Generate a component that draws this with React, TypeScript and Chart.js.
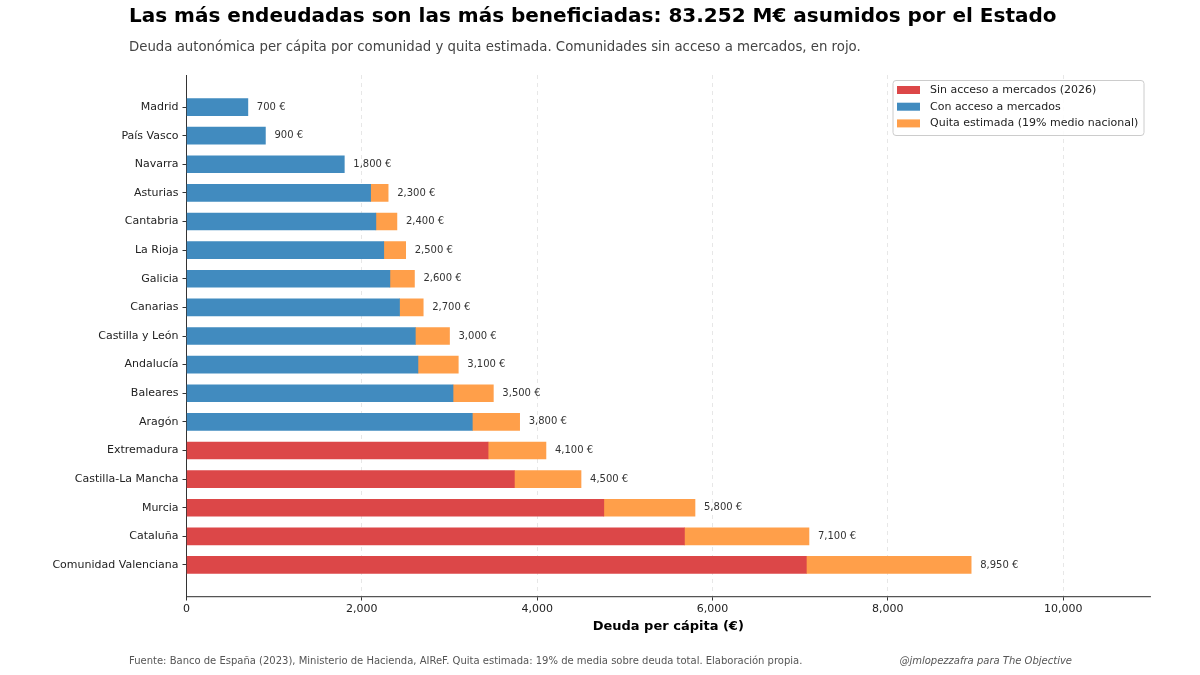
import React, { useEffect, useRef } from 'react';
import { Chart, registerables } from 'chart.js';

Chart.register(...registerables);

const FONT = "'DejaVu Sans', 'Liberation Sans', sans-serif";

// ---- Data ----
const categories = [
  'Madrid',
  'País Vasco',
  'Navarra',
  'Asturias',
  'Cantabria',
  'La Rioja',
  'Galicia',
  'Canarias',
  'Castilla y León',
  'Andalucía',
  'Baleares',
  'Aragón',
  'Extremadura',
  'Castilla-La Mancha',
  'Murcia',
  'Cataluña',
  'Comunidad Valenciana',
];
// Total debt per capita (€)
const totalDebt = [700, 900, 1800, 2300, 2400, 2500, 2600, 2700, 3000, 3100, 3500, 3800, 4100, 4500, 5800, 7100, 8950];
// Estimated debt relief (€ per capita)
const quita = [0, 0, 0, 200, 240, 250, 280, 270, 390, 460, 460, 540, 660, 760, 1040, 1420, 1880];
// Communities without market access (2026)
const sinAcceso = [false, false, false, false, false, false, false, false, false, false, false, false, true, true, true, true, true];

const xTickStep = 2000;
const xMax = 10990;

const legendLabels = [
  'Sin acceso a mercados (2026)',
  'Con acceso a mercados',
  'Quita estimada (19% medio nacional)',
];

const titleText = 'Las más endeudadas son las más beneficiadas: 83.252 M€ asumidos por el Estado';
const subtitleText = 'Deuda autonómica per cápita por comunidad y quita estimada. Comunidades sin acceso a mercados, en rojo.';
const sourceText = 'Fuente: Banco de España (2023), Ministerio de Hacienda, AIReF. Quita estimada: 19% de media sobre deuda total. Elaboración propia.';
const creditText = '@jmlopezzafra para The Objective';
const xAxisTitle = 'Deuda per cápita (€)';

const RED = '#DC4748';
const BLUE = '#418BBF';
const ORANGE = '#FF9F4A';

export default function App() {
  const ref = useRef<HTMLCanvasElement | null>(null);

  useEffect(() => {
    const canvas = ref.current;
    if (!canvas) return;

    const base = totalDebt.map((t, i) => t - quita[i]);
    const redData: { x: number; y: number }[] = [];
    const blueData: { x: number; y: number }[] = [];
    const orangeData: { x: number; y: number }[] = [];
    categories.forEach((_, i) => {
      if (sinAcceso[i]) redData.push({ x: base[i], y: i });
      else blueData.push({ x: base[i], y: i });
      if (quita[i] > 0) orangeData.push({ x: quita[i], y: i });
    });

    const decor = {
      id: 'decor',
      afterDatasetsDraw(chart: any) {
        const { ctx, scales } = chart;
        const xs = scales.x;
        const ys = scales.y;
        ctx.save();
        ctx.font = `10px ${FONT}`;
        ctx.fillStyle = '#333';
        ctx.textAlign = 'left';
        ctx.textBaseline = 'middle';
        totalDebt.forEach((t, i) => {
          ctx.fillText(`${t.toLocaleString('en-US')} €`, xs.getPixelForValue(t) + 9, ys.getPixelForValue(i));
        });
        ctx.restore();
      },
      afterDraw(chart: any) {
        const { ctx } = chart;
        ctx.save();
        // Title
        ctx.textAlign = 'left';
        ctx.textBaseline = 'middle';
        ctx.fillStyle = '#000';
        ctx.font = `bold 20px ${FONT}`;
        ctx.fillText(titleText, 129, 17);
        // Subtitle
        ctx.fillStyle = '#444';
        ctx.font = `13.3px ${FONT}`;
        ctx.fillText(subtitleText, 129, 48);
        // Footer
        ctx.fillStyle = '#555';
        ctx.font = `10px ${FONT}`;
        ctx.fillText(sourceText, 129, 661);
        ctx.textAlign = 'right';
        ctx.font = `italic 10px ${FONT}`;
        ctx.fillText(creditText, 1072, 661);

        // Legend
        const lx = 893, ly = 80.5, lw = 251, lh = 55;
        ctx.beginPath();
        const r = 3;
        ctx.moveTo(lx + r, ly);
        ctx.lineTo(lx + lw - r, ly);
        ctx.quadraticCurveTo(lx + lw, ly, lx + lw, ly + r);
        ctx.lineTo(lx + lw, ly + lh - r);
        ctx.quadraticCurveTo(lx + lw, ly + lh, lx + lw - r, ly + lh);
        ctx.lineTo(lx + r, ly + lh);
        ctx.quadraticCurveTo(lx, ly + lh, lx, ly + lh - r);
        ctx.lineTo(lx, ly + r);
        ctx.quadraticCurveTo(lx, ly, lx + r, ly);
        ctx.closePath();
        ctx.fillStyle = 'rgba(255,255,255,0.85)';
        ctx.fill();
        ctx.strokeStyle = '#cccccc';
        ctx.lineWidth = 1;
        ctx.stroke();
        const colors = [RED, BLUE, ORANGE];
        ctx.textAlign = 'left';
        ctx.textBaseline = 'middle';
        ctx.font = `11px ${FONT}`;
        legendLabels.forEach((lab, i) => {
          const cy = 90 + i * 16.7;
          ctx.fillStyle = colors[i];
          ctx.fillRect(897, cy - 4, 23, 8);
          ctx.fillStyle = '#222';
          ctx.fillText(lab, 930, cy);
        });
        ctx.restore();
      },
    };

    const chart = new Chart(canvas, {
      type: 'bar',
      data: {
        datasets: [
          { label: legendLabels[0], data: redData, backgroundColor: RED, borderWidth: 0, barThickness: 17 },
          { label: legendLabels[1], data: blueData, backgroundColor: BLUE, borderWidth: 0, barThickness: 17 },
          { label: legendLabels[2], data: orangeData, backgroundColor: ORANGE, borderWidth: 0, barThickness: 17 },
        ],
      },
      options: {
        indexAxis: 'y',
        responsive: false,
        animation: false,
        events: [],
        layout: { padding: { left: 0, right: 50, top: 75, bottom: 40.2 } },
        plugins: {
          legend: { display: false },
          tooltip: { enabled: false },
          title: { display: false },
        },
        scales: {
          x: {
            type: 'linear',
            position: 'bottom',
            stacked: true,
            min: 0,
            max: xMax,
            offset: false,
            afterFit: (s: any) => {
              s.height = 37.8;
            },
            afterBuildTicks: (s: any) => {
              const t = [];
              for (let v = 0; v <= xMax; v += xTickStep) t.push({ value: v });
              s.ticks = t;
            },
            ticks: {
              font: { family: FONT, size: 11 },
              color: '#222',
              padding: 2,
              maxRotation: 0,
              autoSkip: false,
              callback: (v: any) => Number(v).toLocaleString('en-US'),
            },
            grid: {
              offset: false,
              color: 'rgba(0,0,0,0.12)',
              lineWidth: 0.8,
              drawTicks: true,
              tickLength: 3.5,
              tickColor: '#333',
              tickWidth: 1,
              tickBorderDash: [],
            },
            border: { display: true, color: '#555', width: 1.2, dash: [4, 4] },
            title: {
              display: true,
              text: xAxisTitle,
              font: { family: FONT, size: 13, weight: 'bold' },
              color: '#000',
              padding: 0,
            },
          },
          y: {
            type: 'linear',
            reverse: true,
            stacked: true,
            offset: false,
            min: -1.12,
            max: categories.length - 1 + 1.12,
            afterFit: (s: any) => {
              s.width = 186.5;
            },
            afterBuildTicks: (s: any) => {
              s.ticks = categories.map((_, i) => ({ value: i }));
            },
            ticks: {
              font: { family: FONT, size: 11 },
              color: '#222',
              padding: 4,
              autoSkip: false,
              callback: (v: any) => categories[Number(v)] ?? '',
            },
            grid: {
              offset: false,
              drawOnChartArea: false,
              drawTicks: true,
              tickLength: 4,
              tickColor: '#333',
              tickWidth: 1,
            },
            border: { display: true, color: '#333', width: 1 },
          },
        },
      },
      plugins: [decor],
    } as any);

    return () => {
      chart.destroy();
    };
  }, []);

  return (
    <div style={{ position: 'absolute', left: 0, top: 0, width: 1200, height: 675, background: '#fff' }}>
      <canvas ref={ref} width={1200} height={675} style={{ display: 'block', width: 1200, height: 675 }} />
    </div>
  );
}
